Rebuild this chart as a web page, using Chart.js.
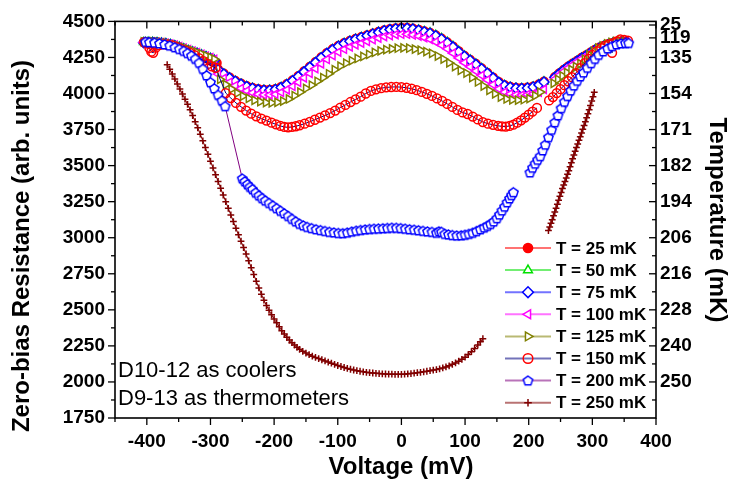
<!DOCTYPE html>
<html>
<head>
<meta charset="utf-8">
<script src="https://cdn.jsdelivr.net/npm/chart.js"></script>
<style>
html, body { margin: 0; padding: 0; background: #fff; }
#wrap { width: 732px; height: 488px; }
</style>
</head>
<body>
<div id="wrap"><canvas id="chart" width="732" height="488"></canvas></div>
<script>
// ---------- axis ticks ----------
const xMajor = [-400, -300, -200, -100, 0, 100, 200, 300, 400];
const xMinor = [-450, -350, -250, -150, -50, 50, 150, 250, 350];
const yMinor = [1875, 2125, 2375, 2625, 2875, 3125, 3375, 3625, 3875, 4125, 4375];
// right axis: temperature labels placed at resistance positions
const tempPos = [4475, 4386, 4250, 4000, 3750, 3500, 3250, 3000, 2750, 2500, 2250, 2000];
const tempLabels = ['25', '119', '135', '154', '171', '182', '194', '206', '216', '228', '240', '250'];
const tempMinor = [4125, 3875, 3625, 3375, 3125, 2875, 2625, 2375, 2125, 1875];

const seriesLabels = ['T = 25 mK', 'T = 50 mK', 'T = 75 mK', 'T = 100 mK', 'T = 125 mK', 'T = 150 mK', 'T = 200 mK', 'T = 250 mK'];

// ---------- data: [voltage mV, resistance] ----------
const t25 = [[-405,4355],[-398,4358],[-391,4357],[-384,4355],[-377,4350],[-370,4345],[-363,4338],[-356,4328],[-349,4318],[-342,4306],[-335,4294],[-328,4280],[-321,4268],[-314,4255],[-307,4242],[-300,4228],[-294,4218],[-290,4212],
  [-288,4169],[-279,4139],[-270,4112],[-261,4089],[-252,4069],[-243,4052],[-234,4040],[-225,4031],[-216,4026],[-207,4026],[-198,4032],[-189,4046],[-180,4066],[-171,4092],[-162,4122],[-153,4154],[-144,4186],[-135,4219],[-126,4252],[-117,4282],[-108,4309],[-99,4332],[-90,4351],[-81,4366],[-72,4380],[-63,4392],[-54,4404],[-45,4416],[-36,4428],[-27,4439],[-18,4447],[-9,4453],[0,4456],[9,4456],[18,4451],[27,4443],[36,4432],[45,4422],[54,4404],[63,4382],[72,4356],[81,4327],[90,4294],[99,4262],[108,4234],[117,4206],[126,4176],[135,4144],[144,4112],[153,4081],[162,4059],[171,4047],[180,4041],[189,4039],[198,4042],[207,4049],[216,4064],[224,4084]];
const t25r = [[241,4115],[248,4141],[255,4165],[262,4188],[269,4208],[276,4228],[283,4248],[290,4265],[297,4285],[304,4303],[311,4319],[318,4331],[325,4343],[332,4351],[339,4358],[346,4362],[353,4358]];

const t50 = [[-405,4356],[-398,4357],[-391,4357],[-384,4355],[-377,4352],[-370,4348],[-363,4342],[-356,4334],[-349,4324],[-342,4313],[-335,4301],[-328,4291],[-321,4281],[-314,4270],[-307,4258],[-300,4246],[-294,4234],
  [-288,4167],[-279,4137],[-270,4110],[-261,4087],[-252,4067],[-243,4050],[-234,4038],[-225,4029],[-216,4024],[-207,4024],[-198,4030],[-189,4044],[-180,4064],[-171,4090],[-162,4120],[-153,4152],[-144,4184],[-135,4217],[-126,4250],[-117,4280],[-108,4307],[-99,4330],[-90,4349],[-81,4364],[-72,4378],[-63,4390],[-54,4402],[-45,4414],[-36,4426],[-27,4437],[-18,4445],[-9,4451],[0,4454],[9,4454],[18,4449],[27,4442],[36,4432],[45,4423],[54,4406],[63,4384],[72,4358],[81,4329],[90,4296],[99,4263],[108,4235],[117,4206],[126,4176],[135,4144],[144,4111],[153,4080],[162,4058],[171,4045],[180,4039],[189,4037],[198,4040],[207,4047],[216,4062],[224,4083]];
const t50r = [[241,4114],[248,4140],[255,4164],[262,4187],[269,4207],[276,4227],[283,4247],[290,4264],[297,4284],[304,4302],[311,4318],[318,4330],[325,4342],[332,4350],[339,4357],[346,4360],[353,4357]];

const t75 = [[-405,4352],[-398,4354],[-391,4354],[-384,4352],[-377,4349],[-370,4345],[-363,4339],[-356,4331],[-349,4320],[-342,4309],[-335,4297],[-328,4288],[-321,4278],[-314,4266],[-307,4254],[-300,4242],[-294,4230],
  [-288,4165],[-279,4135],[-270,4108],[-261,4085],[-252,4065],[-243,4048],[-234,4036],[-225,4027],[-216,4022],[-207,4022],[-198,4028],[-189,4042],[-180,4062],[-171,4088],[-162,4118],[-153,4150],[-144,4182],[-135,4215],[-126,4248],[-117,4278],[-108,4305],[-99,4328],[-90,4347],[-81,4362],[-72,4376],[-63,4388],[-54,4400],[-45,4412],[-36,4424],[-27,4435],[-18,4443],[-9,4449],[0,4452],[9,4452],[18,4447],[27,4439],[36,4428],[45,4418],[54,4400],[63,4378],[72,4352],[81,4323],[90,4290],[99,4258],[108,4230],[117,4202],[126,4172],[135,4140],[144,4108],[153,4077],[162,4055],[171,4043],[180,4037],[189,4035],[198,4038],[207,4045],[216,4060],[224,4080]];
const t75r = [[241,4112],[248,4138],[255,4162],[262,4185],[269,4205],[276,4225],[283,4245],[290,4262],[297,4282],[304,4300],[311,4316],[318,4328],[325,4340],[332,4348],[339,4355],[346,4358],[353,4355]];

const t100 = [[-405,4355],[-398,4357],[-391,4357],[-384,4355],[-377,4352],[-370,4348],[-363,4342],[-356,4335],[-349,4325],[-342,4315],[-335,4304],[-328,4294],[-321,4284],[-314,4272],[-307,4260],[-300,4248],[-294,4236],
  [-288,4135],[-279,4105],[-270,4078],[-261,4055],[-252,4035],[-243,4018],[-234,4005],[-225,3995],[-216,3990],[-207,3990],[-198,3995],[-189,4008],[-180,4026],[-171,4050],[-162,4078],[-153,4108],[-144,4140],[-135,4172],[-126,4205],[-117,4236],[-108,4263],[-99,4287],[-90,4307],[-81,4323],[-72,4337],[-63,4349],[-54,4361],[-45,4373],[-36,4384],[-27,4394],[-18,4402],[-9,4408],[0,4411],[9,4411],[18,4406],[27,4398],[36,4387],[45,4376],[54,4358],[63,4336],[72,4310],[81,4280],[90,4247],[99,4214],[108,4185],[117,4156],[126,4126],[135,4094],[144,4062],[153,4032],[162,4010],[171,3997],[180,3991],[189,3989],[198,3992],[207,3998],[216,4010],[224,4028]];
const t100r = [[241,4100],[248,4128],[255,4153],[262,4177],[269,4198],[276,4219],[283,4240],[290,4258],[297,4278],[304,4297],[311,4313],[318,4326],[325,4338],[332,4347],[339,4354],[346,4357],[353,4354]];

const t125 = [[-405,4358],[-398,4360],[-391,4360],[-384,4358],[-377,4355],[-370,4351],[-363,4345],[-356,4338],[-349,4328],[-342,4318],[-335,4307],[-328,4297],[-321,4286],[-314,4274],[-307,4262],[-300,4250],[-294,4238],
  [-285,4098],[-276,4062],[-267,4030],[-258,4003],[-249,3982],[-240,3966],[-231,3953],[-222,3943],[-213,3937],[-204,3935],[-195,3939],[-186,3948],[-177,3962],[-168,3985],[-159,4010],[-150,4035],[-141,4058],[-132,4085],[-123,4110],[-114,4137],[-105,4165],[-96,4190],[-87,4210],[-78,4228],[-69,4243],[-60,4257],[-51,4271],[-42,4285],[-33,4296],[-24,4304],[-15,4310],[-6,4314],[3,4316],[12,4314],[21,4308],[30,4300],[39,4290],[48,4278],[57,4260],[66,4238],[75,4212],[84,4186],[93,4160],[102,4141],[111,4110],[120,4080],[129,4052],[138,4022],[147,3998],[156,3975],[165,3962],[174,3956],[183,3954],[192,3957],[201,3965],[210,3985],[218,4010]];
const t125r = [[239,4071],[246,4098],[253,4122],[260,4145],[267,4166],[274,4186],[281,4207],[288,4238],[295,4268],[302,4293],[309,4314],[316,4330],[323,4344],[330,4354],[337,4362],[344,4365],[351,4360],[355,4352]];

const t150 = [[-404,4355],[-399,4346],[-396,4316],[-393,4290],[-390,4282],[-386,4318],[-381,4335],[-374,4340],[-367,4338],[-360,4333],[-353,4322],[-346,4308],[-339,4295],[-332,4282],[-325,4266],[-318,4246],[-311,4225],[-304,4205],[-298,4188],[-292,4178],
  [-276,4003],[-268,3968],[-260,3935],[-252,3908],[-244,3882],[-236,3860],[-228,3842],[-220,3826],[-212,3812],[-204,3798],[-197,3786],[-190,3775],[-184,3768],[-178,3765],[-172,3768],[-166,3773],[-160,3780],[-152,3791],[-144,3804],[-136,3818],[-128,3833],[-120,3848],[-112,3864],[-104,3882],[-96,3902],[-88,3921],[-80,3941],[-72,3959],[-64,3978],[-56,4000],[-48,4018],[-40,4029],[-32,4037],[-24,4042],[-16,4045],[-8,4046],[0,4044],[8,4040],[16,4033],[24,4023],[32,4011],[40,3998],[48,3983],[56,3966],[64,3948],[72,3928],[80,3907],[88,3886],[96,3869],[104,3858],[112,3840],[120,3820],[128,3802],[136,3791],[144,3783],[152,3776],[158,3772],[164,3771],[170,3775],[176,3784],[182,3798],[188,3814],[194,3833],[200,3853],[206,3875],[213,3900]];
const t150r = [[232,3952],[238,3975],[244,4003],[250,4030],[256,4058],[262,4085],[268,4113],[274,4142],[281,4175],[288,4210],[294,4240],[300,4268],[307,4294],[314,4315],[320,4330],[326,4340],[331,4282],[333,4350],[338,4362],[344,4375],[350,4372],[356,4366]];

const t200 = [[-402,4358],[-396,4355],[-388,4352],[-380,4347],[-372,4340],[-364,4332],[-356,4320],[-349,4308],[-342,4295],[-336,4280],[-330,4262],[-324,4240],[-318,4212],[-312,4170],[-306,4125],[-300,4078],[-294,4035],[-288,3990],[-282,3950],[-277,3912],
  [-250,3410],[-246,3390],[-242,3370],[-238,3352],[-234,3336],[-229,3312],[-224,3292],[-219,3274],[-214,3257],[-208,3240],[-202,3222],[-196,3204],[-190,3186],[-184,3168],[-178,3150],[-172,3130],[-166,3112],[-160,3096],[-154,3084],[-148,3074],[-141,3066],[-134,3058],[-127,3052],[-120,3046],[-113,3040],[-106,3036],[-99,3032],[-92,3031],[-85,3035],[-78,3042],[-71,3048],[-64,3053],[-57,3057],[-50,3060],[-43,3062],[-36,3063],[-29,3065],[-22,3067],[-15,3069],[-8,3068],[-1,3066],[6,3062],[13,3058],[20,3055],[27,3051],[34,3047],[41,3043],[48,3040],[55,3034],[59,3044],[63,3040],[68,3026],[74,3022],[80,3018],[87,3015],[94,3016],[100,3020],[106,3026],[112,3034],[118,3045],[124,3058],[130,3070],[135,3082],[140,3095],[145,3112],[150,3135],[154,3160],[158,3188],[162,3215],[166,3245],[170,3272],[173,3295],[176,3315]];
const t200r = [[202,3452],[206,3485],[210,3513],[214,3540],[218,3565],[222,3605],[226,3645],[231,3697],[236,3748],[241,3800],[246,3848],[251,3898],[256,3942],[261,3982],[266,4020],[271,4055],[276,4088],[281,4118],[286,4145],[292,4178],[298,4210],[304,4240],[310,4268],[317,4292],[324,4312],[331,4328],[338,4340],[345,4347],[352,4350],[357,4350]];

const t250 = [[-368,4200],[-364,4168],[-360,4135],[-356,4101],[-352,4066],[-348,4031],[-344,3996],[-340,3961],[-336,3925],[-332,3887],[-328,3847],[-324,3805],[-320,3762],[-316,3718],[-312,3672],[-308,3625],[-304,3578],[-300,3531],[-296,3484],[-292,3437],[-288,3390],[-284,3343],[-280,3296],[-276,3250],[-272,3204],[-268,3158],[-264,3112],[-260,3066],[-256,3020],[-252,2976],[-248,2932],[-244,2887],[-240,2840],[-236,2792],[-232,2745],[-228,2698],[-224,2652],[-220,2608],[-216,2567],[-212,2530],[-208,2497],[-204,2466],[-200,2437],[-196,2410],[-192,2383],
  [-188,2355],[-184,2332],[-180,2310],[-176,2290],[-172,2272],[-168,2256],[-164,2240],[-160,2226],[-155,2212],[-150,2200],[-145,2189],[-140,2179],[-135,2170],[-130,2162],[-125,2154],[-120,2146],[-115,2138],[-110,2130],[-105,2122],[-100,2114],[-95,2107],[-90,2100],[-85,2094],[-80,2088],[-75,2083],[-70,2078],[-65,2074],[-60,2070],[-55,2067],[-50,2064],[-45,2062],[-40,2060],[-35,2058],[-30,2056],[-25,2055],[-20,2054],[-15,2054],[-10,2053],[-5,2053],[0,2053],[5,2054],[10,2056],[15,2058],[20,2061],[25,2064],[30,2067],[35,2070],[40,2074],[45,2078],[50,2082],[55,2086],[60,2091],[65,2097],[70,2104],[75,2112],[80,2122],[85,2132],[90,2144],[95,2157],[100,2172],[105,2190],[110,2210],[115,2232],[120,2256],[124,2278],[128,2300]];
const t250r = [[231,3050],[233,3075],[235,3100],[237,3125],[239,3152],[241,3178],[243,3205],[245,3232],[247,3260],[249,3287],[251,3314],[253,3341],[255,3365],[257,3390],[259,3415],[261,3440],[263,3465],[265,3492],[267,3520],[269,3547],[271,3574],[273,3600],[275,3625],[277,3650],[279,3676],[281,3701],[283,3727],[285,3752],[287,3778],[289,3805],[291,3832],[293,3860],[295,3887],[297,3917],[299,3948],[301,3978],[303,4008]];

// ---------- styles ----------
const markerColors = ['#ff0000', '#00e000', '#0000ff', '#ff00ff', '#808000', '#ff0000', '#0000ff', '#800000'];
const lineColors = ['#ff0000', '#00e000', '#0000ff', '#ff00ff', '#808000', '#000080', '#800080', '#800000'];

function makePentagon(color) {
    const c = document.createElement('canvas');
    c.width = 13; c.height = 13;
    const g = c.getContext('2d');
    g.beginPath();
    for (let i = 0; i < 5; i++) {
        const a = -Math.PI / 2 + i * 2 * Math.PI / 5;
        const px = 6.5 + 4.9 * Math.cos(a), py = 6.9 + 4.9 * Math.sin(a);
        if (i) g.lineTo(px, py); else g.moveTo(px, py);
    }
    g.closePath();
    g.fillStyle = '#fff'; g.fill();
    g.strokeStyle = color; g.lineWidth = 1.5; g.stroke();
    return c;
}

const pointStyles = ['circle', 'triangle', 'rectRot', 'triangle', 'triangle', 'circle', makePentagon('#0000ff'), 'cross'];
const pointRotations = [0, 0, 0, -90, 90, 0, 0, 0];
const pointFills = ['#ff0000', '#ffffff', '#ffffff', '#ffffff', '#ffffff', 'rgba(255,255,255,0)', '#ffffff', '#800000'];
const pointSizes = [4.2, 4.7, 5, 4.7, 4.7, 4.4, 4, 3.4];

function joinSegments(...segs) {
    const out = [];
    segs.forEach((seg, i) => {
        if (i > 0) out.push({ x: seg[0][0], y: null });
        seg.forEach(p => out.push({ x: p[0], y: p[1] }));
    });
    return out;
}

const seriesData = [
    joinSegments(t25, t25r), joinSegments(t50, t50r), joinSegments(t75, t75r),
    joinSegments(t100, t100r), joinSegments(t125, t125r), joinSegments(t150, t150r),
    joinSegments(t200, t200r), joinSegments(t250, t250r)
];

const datasets = seriesData.map((d, i) => ({
    label: seriesLabels[i],
    data: d,
    showLine: true,
    spanGaps: false,
    borderColor: lineColors[i],
    borderWidth: 1,
    pointStyle: pointStyles[i],
    pointRotation: pointRotations[i],
    pointRadius: pointSizes[i],
    pointBorderColor: markerColors[i],
    pointBackgroundColor: pointFills[i],
    pointBorderWidth: 1.5,
    order: 10 - i
}));

// ---------- frame, ticks, titles, legend ----------
const framePlugin = {
    id: 'frame',
    afterDraw(chart) {
        const { ctx, chartArea: a, scales } = chart;
        const x = scales.x, y = scales.y;
        ctx.save();
        ctx.strokeStyle = '#000';
        const tick = (x1, y1, x2, y2) => { ctx.beginPath(); ctx.moveTo(x1, y1); ctx.lineTo(x2, y2); ctx.stroke(); };

        ctx.lineWidth = 1.3;
        xMajor.forEach(v => { const p = x.getPixelForValue(v); tick(p, a.bottom, p, a.bottom + 7); tick(p, a.top, p, a.top + 7); });
        xMinor.forEach(v => { const p = x.getPixelForValue(v); tick(p, a.bottom, p, a.bottom + 4); tick(p, a.top, p, a.top + 4); });
        y.ticks.forEach(t => { const p = y.getPixelForValue(t.value); tick(a.left - 7, p, a.left, p); });
        yMinor.forEach(v => { const p = y.getPixelForValue(v); tick(a.left - 4, p, a.left, p); });
        tempPos.forEach(v => { const p = y.getPixelForValue(v); tick(a.right - 7, p, a.right, p); });
        tempMinor.forEach(v => { const p = y.getPixelForValue(v); tick(a.right - 4, p, a.right, p); });

        ctx.lineWidth = 1.6;
        ctx.strokeRect(a.left, a.top, a.right - a.left, a.bottom - a.top);

        // axis titles
        ctx.fillStyle = '#000';
        ctx.textAlign = 'center';
        ctx.textBaseline = 'middle';
        ctx.font = 'bold 24px "Liberation Sans", Arial, sans-serif';
        ctx.fillText('Voltage (mV)', 401, 467);
        ctx.save();
        ctx.translate(22, 246); ctx.rotate(-Math.PI / 2);
        ctx.fillText('Zero-bias Resistance (arb. units)', 0, 0);
        ctx.restore();
        ctx.save();
        ctx.translate(717, 220); ctx.rotate(Math.PI / 2);
        ctx.fillText('Temperature (mK)', 0, 0);
        ctx.restore();

        // notes
        ctx.textAlign = 'left';
        ctx.textBaseline = 'alphabetic';
        ctx.font = '22px "Liberation Sans", Arial, sans-serif';
        ctx.fillText('D10-12 as coolers', 118, 377);
        ctx.fillText('D9-13 as thermometers', 118, 405);

        // legend
        ctx.font = 'bold 17px "Liberation Sans", Arial, sans-serif';
        ctx.textBaseline = 'middle';
        seriesLabels.forEach((lab, i) => {
            const ry = 248 + i * 22.1;
            ctx.globalAlpha = 0.55;
            ctx.strokeStyle = lineColors[i];
            ctx.lineWidth = 2;
            tick(505, ry, 551, ry);
            ctx.globalAlpha = 1;
            ctx.strokeStyle = markerColors[i];
            ctx.fillStyle = pointFills[i];
            ctx.lineWidth = 1.5;
            Chart.helpers.drawPoint(ctx, {
                pointStyle: pointStyles[i], rotation: pointRotations[i],
                radius: pointSizes[i] + 0.4, borderWidth: 1.5
            }, 528, ry);
            ctx.fillStyle = '#000';
            ctx.fillText(lab, 556, ry + 1);
        });
        ctx.restore();
    }
};

Chart.defaults.font.family = '"Liberation Sans", Arial, sans-serif';
Chart.defaults.color = '#000';

const tickFont = { size: 19, weight: 'bold' };

new Chart(document.getElementById('chart'), {
    type: 'scatter',
    data: { datasets },
    options: {
        responsive: false,
        animation: false,
        events: [],
        layout: { padding: { top: 15, left: 0, right: 0, bottom: 0 } },
        plugins: { legend: { display: false }, tooltip: { enabled: false } },
        scales: {
            x: {
                type: 'linear', position: 'bottom', min: -450, max: 400,
                afterBuildTicks: s => { s.ticks = xMajor.map(v => ({ value: v })); },
                afterFit: s => { s.height = 70; },
                grid: { display: false, drawTicks: false },
                border: { display: false },
                ticks: { autoSkip: false, maxRotation: 0, padding: 12, color: '#000', font: tickFont, callback: v => String(v) }
            },
            y: {
                type: 'linear', position: 'left', min: 1750, max: 4500,
                afterFit: s => { s.width = 115; },
                grid: { display: false, drawTicks: false },
                border: { display: false },
                ticks: { stepSize: 250, autoSkip: false, padding: 10, color: '#000', font: tickFont, callback: v => String(v) }
            },
            y2: {
                type: 'linear', position: 'right', min: 1750, max: 4500,
                afterBuildTicks: s => { s.ticks = tempPos.map(v => ({ value: v })); },
                afterFit: s => { s.width = 76; },
                grid: { display: false, drawTicks: false },
                border: { display: false },
                ticks: { autoSkip: false, padding: 4, color: '#000', font: tickFont, callback: (v, i) => tempLabels[i] }
            }
        }
    },
    plugins: [framePlugin]
});
</script>
</body>
</html>
